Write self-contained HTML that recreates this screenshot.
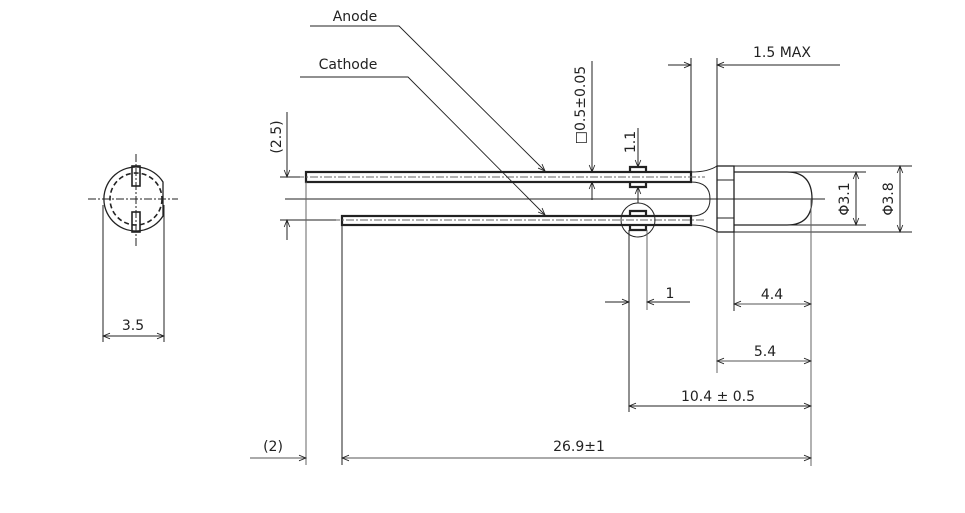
<!DOCTYPE html>
<html><head><meta charset="utf-8"><style>
html,body{margin:0;padding:0;background:#fff;}
svg{display:block;}
text{font-family:"DejaVu Sans","Liberation Sans",sans-serif;font-size:14px;fill:#222;}
</style></head><body>
<svg width="965" height="513" viewBox="0 0 965 513" xmlns="http://www.w3.org/2000/svg">
<defs>
<marker id="a" viewBox="0 0 10 10" refX="10" refY="5" markerWidth="9" markerHeight="7" orient="auto-start-reverse" markerUnits="userSpaceOnUse">
<path d="M0,1 L10,5 L0,9" fill="none" stroke="#222" stroke-width="1.2"/></marker>
</defs>
<g stroke="#222" fill="none" stroke-width="1">
<!-- left end view -->
<path d="M163,182 A32,32 0 1 0 163,216 Z" stroke-width="1.3"/>
<circle cx="136" cy="199" r="26" stroke-dasharray="5,3" stroke-width="1.6"/>
<line x1="88" y1="199" x2="178" y2="199" stroke-dasharray="8,2,2,2"/>
<line x1="136" y1="154" x2="136" y2="246" stroke-dasharray="8,2,2,2"/>
<rect x="132" y="166" width="8" height="20" stroke-width="1.6"/>
<rect x="132" y="212" width="8" height="20" stroke-width="1.6"/>
<line x1="103" y1="205" x2="103" y2="342"/>
<line x1="164" y1="205" x2="164" y2="342"/>
<line x1="103" y1="336" x2="164" y2="336" marker-start="url(#a)" marker-end="url(#a)"/>

<!-- leads -->
<rect x="306" y="172" width="385" height="10" stroke-width="2.2"/>
<rect x="342" y="216" width="349" height="9" stroke-width="2.2"/>
<line x1="296" y1="177" x2="705" y2="177" stroke-dasharray="8,2,2,2" stroke="#666"/>
<line x1="332" y1="220" x2="705" y2="220" stroke-dasharray="8,2,2,2" stroke="#666"/>
<!-- kinks -->
<path d="M630,172 V167 H646 V172 M630,182 V187 H646 V182" stroke-width="2.2"/>
<path d="M630,216 V211 H646 V216 M630,225 V230 H646 V225" stroke-width="2.2"/>
<circle cx="638" cy="220" r="17"/>
<!-- center line -->
<line x1="285" y1="199" x2="825" y2="199"/>
<!-- lead to body -->
<path d="M691,172 Q708,172 717,166 M691,225 Q708,225 717,232"/>
<path d="M691,182 Q710,182 710,199 Q710,216 691,216"/>
<!-- flange -->
<rect x="717" y="166" width="17" height="66" stroke-width="1.3"/>
<line x1="717" y1="180" x2="734" y2="180"/>
<line x1="717" y1="218" x2="734" y2="218"/>
<path d="M734,172 H787 Q812,172 812,199 Q812,225 787,225 H734" stroke-width="1.3"/>
<!-- right dims -->
<line x1="734" y1="166" x2="912" y2="166"/>
<line x1="734" y1="232" x2="912" y2="232"/>
<line x1="790" y1="172" x2="866" y2="172"/>
<line x1="790" y1="225" x2="866" y2="225"/>
<line x1="856" y1="172" x2="856" y2="225" marker-start="url(#a)" marker-end="url(#a)"/>
<line x1="900" y1="166" x2="900" y2="232" marker-start="url(#a)" marker-end="url(#a)"/>
<!-- 1.5 MAX -->
<line x1="691" y1="58" x2="691" y2="172"/>
<line x1="717" y1="58" x2="717" y2="166"/>
<line x1="668" y1="65" x2="691" y2="65" marker-end="url(#a)"/>
<line x1="840" y1="65" x2="717" y2="65" marker-end="url(#a)"/>
<!-- 0.5 -->
<line x1="592" y1="61" x2="592" y2="172" marker-end="url(#a)"/>
<line x1="592" y1="200" x2="592" y2="182" marker-end="url(#a)"/>
<!-- 1.1 -->
<line x1="638" y1="128" x2="638" y2="167" marker-end="url(#a)"/>
<line x1="638" y1="203" x2="638" y2="187" marker-end="url(#a)"/>
<!-- 2.5 -->
<line x1="280" y1="177" x2="300" y2="177"/>
<line x1="280" y1="220" x2="336" y2="220"/>
<line x1="287" y1="112" x2="287" y2="177" marker-end="url(#a)"/>
<line x1="287" y1="240" x2="287" y2="220" marker-end="url(#a)"/>
<!-- leaders -->
<path d="M310,26 H399 L545,171" marker-end="url(#a)" stroke-width="0.9"/>
<path d="M300,77 H408 L545,215" marker-end="url(#a)" stroke-width="0.9"/>
<!-- extension lines down -->
<line x1="306" y1="182" x2="306" y2="465" stroke="#666"/>
<line x1="342" y1="225" x2="342" y2="465"/>
<line x1="629" y1="230" x2="629" y2="412"/>
<line x1="647" y1="230" x2="647" y2="310" stroke="#666"/>
<line x1="717" y1="232" x2="717" y2="373" stroke="#666"/>
<line x1="734" y1="232" x2="734" y2="311"/>
<line x1="811" y1="199" x2="811" y2="466" stroke="#666"/>
<!-- horizontal dims -->
<line x1="605" y1="302" x2="629" y2="302" marker-end="url(#a)"/>
<line x1="690" y1="302" x2="647" y2="302" marker-end="url(#a)"/>
<line x1="734" y1="304" x2="811" y2="304" marker-start="url(#a)" marker-end="url(#a)" stroke="#555"/>
<line x1="717" y1="361" x2="811" y2="361" marker-start="url(#a)" marker-end="url(#a)" stroke="#555"/>
<line x1="629" y1="406" x2="811" y2="406" marker-start="url(#a)" marker-end="url(#a)"/>
<line x1="250" y1="458" x2="306" y2="458" marker-end="url(#a)" stroke="#555"/>
<line x1="342" y1="458" x2="811" y2="458" marker-start="url(#a)" marker-end="url(#a)" stroke="#555"/>
</g>
<g>
<text x="355" y="21" text-anchor="middle">Anode</text>
<text x="348" y="69" text-anchor="middle">Cathode</text>
<text x="782" y="57" text-anchor="middle">1.5 MAX</text>
<text x="133" y="330" text-anchor="middle">3.5</text>
<text x="670" y="298" text-anchor="middle">1</text>
<text x="772" y="299" text-anchor="middle">4.4</text>
<text x="765" y="356" text-anchor="middle">5.4</text>
<text x="718" y="401" text-anchor="middle">10.4 ± 0.5</text>
<text x="579" y="451" text-anchor="middle">26.9±1</text>
<text x="273" y="451" text-anchor="middle">(2)</text>
<text transform="translate(281,137) rotate(-90)" text-anchor="middle">(2.5)</text>
<text transform="translate(585,105) rotate(-90)" text-anchor="middle">□0.5±0.05</text>
<text transform="translate(635,142) rotate(-90)" text-anchor="middle">1.1</text>
<text transform="translate(849,199) rotate(-90)" text-anchor="middle">Φ3.1</text>
<text transform="translate(893,199) rotate(-90)" text-anchor="middle">Φ3.8</text>
</g>
</svg>
</body></html>
